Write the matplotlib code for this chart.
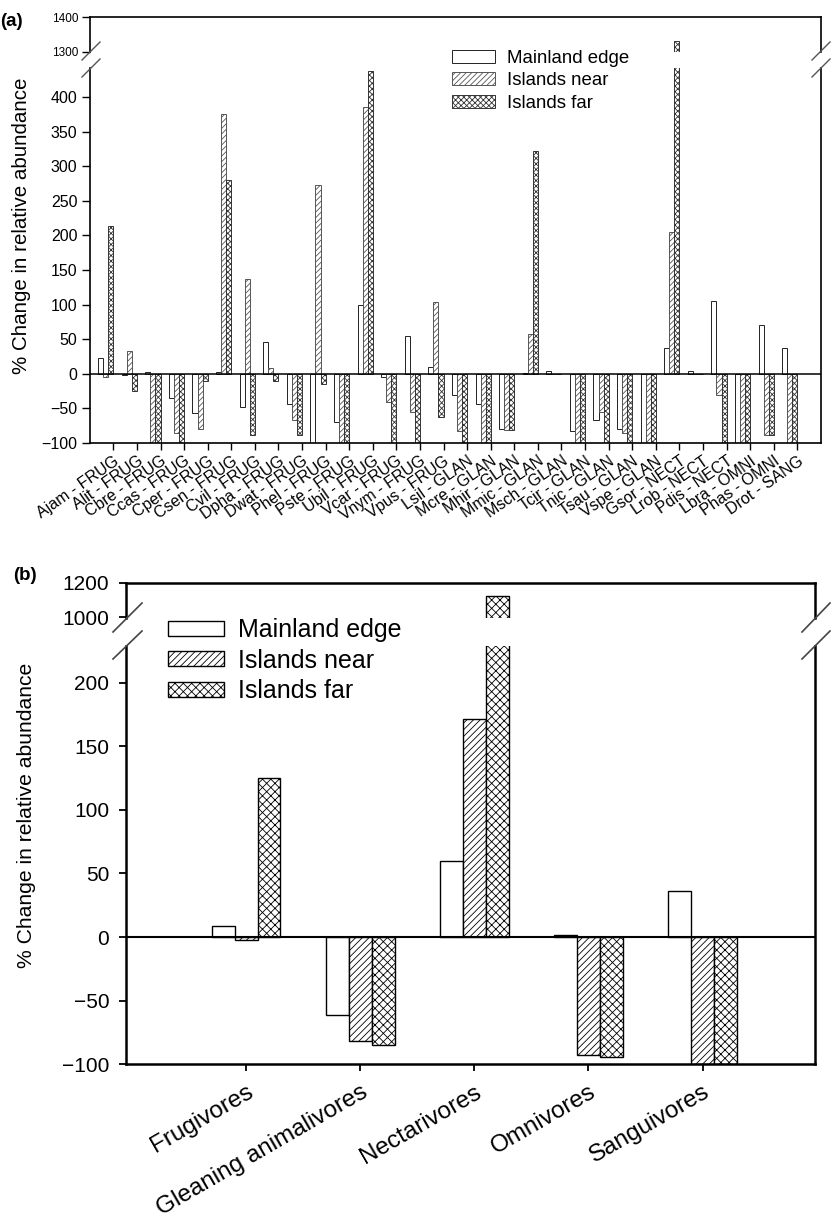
import matplotlib
matplotlib.use('Agg')
import matplotlib.pyplot as plt
from matplotlib.patches import Patch
from matplotlib.lines import Line2D
import numpy as np

plt.rcParams['font.family'] = ['Liberation Sans', 'DejaVu Sans']
plt.rcParams['hatch.linewidth'] = 0.6

# ---------------- data: panel (a) ----------------
species = ['Ajam', 'Alit', 'Cbre', 'Ccas', 'Cper', 'Csen', 'Cvil', 'Dpha', 'Dwat', 'Phel',
           'Pste', 'Ubil', 'Vcar', 'Vnym', 'Vpus', 'Lsil', 'Mcre', 'Mhir', 'Mmic', 'Msch',
           'Tcir', 'Tnic', 'Tsau', 'Vspe', 'Gsor', 'Lrob', 'Pdis', 'Lbra', 'Phas', 'Drot']
guild_codes = ['FRUG'] * 15 + ['GLAN'] * 9 + ['NECT'] * 3 + ['OMNI'] * 2 + ['SANG']
mainland_a = [23, -2, 2, -35, -56, 2, -48, 46, -43, -100, -70, 100, -4, 54, 10,
              -31, -43, -80, 1, 4, -83, -67, -80, -100, 37, 4, 105, -100, 71, 37]
near_a = [-5, 33, -100, -85, -80, 375, 137, 8, -67, 273, -100, 385, -41, -55, 104,
          -82, -100, -81, 58, 0, -100, -55, -85, -100, 205, 0, -31, -100, -89, -100]
far_a = [213, -25, -100, -100, -10, 280, -89, -10, -89, -15, -100, 437, -100, -100, -63,
         -100, -100, -81, 322, 0, -100, -100, -100, -100, 1330, 0, -100, -100, -89, -100]

# ---------------- data: panel (b) ----------------
guilds = ['Frugivores', 'Gleaning animalivores', 'Nectarivores', 'Omnivores', 'Sanguivores']
mainland_b = [9, -61, 60, 2, 36]
near_b = [-2, -82, 171, -93, -100]
far_b = [125, -85, 1125, -94, -100]

series_labels = ['Mainland edge', 'Islands near', 'Islands far']

W, H = 831, 1224
fig = plt.figure(figsize=(W / 100, H / 100), dpi=100)


def rect(x0, y0, x1, y1):
    return [x0 / W, 1 - y1 / H, (x1 - x0) / W, (y1 - y0) / H]


def fline(x0, y0, x1, y1, **kw):
    fig.add_artist(Line2D([x0 / W, x1 / W], [1 - y0 / H, 1 - y1 / H],
                          transform=fig.transFigure, **kw))


# ================= Panel (a) =================
axa_t = fig.add_axes(rect(90, 17, 820.7, 52))
axa = fig.add_axes(rect(90, 68, 820.7, 443))
xa = np.arange(len(species))
wa = 0.215
ec_a = '#222222'
for ax in (axa_t, axa):
    ax.bar(xa - 2.5 * wa, mainland_a, wa, facecolor='white', edgecolor=ec_a, lw=0.7, zorder=2)
    ax.bar(xa - 1.5 * wa, near_a, wa, facecolor='white', edgecolor='#555555', hatch='//////', lw=0.7, zorder=2)
    ax.bar(xa - 0.5 * wa, far_a, wa, facecolor='white', edgecolor='#333333', hatch='xxxxxx', lw=0.7, zorder=2)
    ax.set_xlim(-0.99, 29.99)
    for s in ax.spines.values():
        s.set_linewidth(1.2)

axa_t.set_ylim(1300, 1400)
axa_t.set_yticks([1300, 1400])
axa_t.tick_params(axis='y', labelsize=8.5, length=5.5, width=1, pad=3, direction='out')
axa_t.spines['bottom'].set_visible(False)
axa_t.set_xticks([])

axa.set_ylim(-100, 442)
axa.set_yticks(np.arange(-100, 401, 50))
axa.spines['top'].set_visible(False)
axa.axhline(0, color='black', lw=1.1, zorder=3)
axa.set_xticks(xa)
axa.set_xticklabels([f'{s} - {g}' for s, g in zip(species, guild_codes)])
axa.tick_params(axis='y', labelsize=11.5, length=5.5, width=1, pad=3.5, direction='out')
axa.tick_params(axis='x', labelsize=11.5, length=5, width=1, pad=2.5, direction='out')
for lab in axa.get_xticklabels():
    lab.set_rotation(35)
    lab.set_ha('right')
    lab.set_va('top')
    lab.set_rotation_mode('anchor')

# break marks (a)
for xs in ((82, 100), (812, 830)):
    fline(xs[0], 60, xs[1], 42, color='#555555', lw=1)
    fline(xs[0], 77, xs[1], 59, color='#555555', lw=1)

fig.text(22 / W, 1 - 226 / H, '% Change in relative abundance', rotation=90,
         ha='center', va='center', fontsize=14.8)
fig.text(0 / W, 1 - 21 / H, '(a)', ha='left', va='center', fontsize=13.5, fontweight='bold')

handles_a = [Patch(facecolor='white', edgecolor=ec_a, lw=0.7),
             Patch(facecolor='white', edgecolor='#555555', hatch='//////', lw=0.7),
             Patch(facecolor='white', edgecolor='#333333', hatch='xxxxxx', lw=0.7)]
fig.legend(handles_a, series_labels, loc='upper left', bbox_to_anchor=(452 / W, 1 - 49.5 / H),
           frameon=False, fontsize=13.4, handlelength=2.3, handleheight=0.7,
           handletextpad=0.65, labelspacing=0.3, borderaxespad=0, borderpad=0)

# ================= Panel (b) =================
axb_t = fig.add_axes(rect(126, 583, 815, 618))
axb = fig.add_axes(rect(126, 645.7, 815, 1064.3))
xb = np.arange(len(guilds))
wb = 0.2
for ax in (axb_t, axb):
    ax.bar(xb - wb, mainland_b, wb, facecolor='white', edgecolor='black', lw=1, zorder=2)
    ax.bar(xb, near_b, wb, facecolor='white', edgecolor='black', hatch='/////', lw=1, zorder=2)
    ax.bar(xb + wb, far_b, wb, facecolor='white', edgecolor='black', hatch='xxxx', lw=1, zorder=2)
    ax.set_xlim(-1.053, 4.985)
    for s in ax.spines.values():
        s.set_linewidth(1.8)

axb_t.set_ylim(995, 1200)
axb_t.set_yticks([1000, 1200])
axb_t.spines['bottom'].set_visible(False)
axb_t.set_xticks([])
axb_t.tick_params(axis='y', labelsize=15, length=5, width=1.3, pad=7, direction='out')

axb.set_ylim(-100, 229)
axb.set_yticks(np.arange(-100, 201, 50))
axb.spines['top'].set_visible(False)
axb.axhline(0, color='black', lw=1.5, zorder=3)
axb.set_xticks(xb)
axb.set_xticklabels(guilds)
axb.tick_params(axis='y', labelsize=15, length=5, width=1.3, pad=7, direction='out')
axb.tick_params(axis='x', labelsize=17.5, length=5, width=1.3, pad=7, direction='out')
for lab in axb.get_xticklabels():
    lab.set_rotation(30)
    lab.set_ha('right')
    lab.set_va('top')
    lab.set_rotation_mode('anchor')

for xs in ((113, 142), (802, 830)):
    fline(xs[0], 632, xs[1], 603, color='#444444', lw=1.2)
    fline(xs[0], 659, xs[1], 631, color='#444444', lw=1.2)

fig.text(27 / W, 1 - 815 / H, '% Change in relative abundance', rotation=90,
         ha='center', va='center', fontsize=15.2)
fig.text(13 / W, 1 - 575 / H, '(b)', ha='left', va='center', fontsize=13.5, fontweight='bold')

handles_b = [Patch(facecolor='white', edgecolor='black', lw=1),
             Patch(facecolor='white', edgecolor='black', hatch='/////', lw=1),
             Patch(facecolor='white', edgecolor='black', hatch='xxxx', lw=1)]
fig.legend(handles_b, series_labels, loc='upper left', bbox_to_anchor=(168 / W, 1 - 618 / H),
           frameon=False, fontsize=18, handlelength=2.24, handleheight=0.56,
           handletextpad=0.56, labelspacing=0.26, borderaxespad=0, borderpad=0)

fig.savefig('out.png', dpi=100)
